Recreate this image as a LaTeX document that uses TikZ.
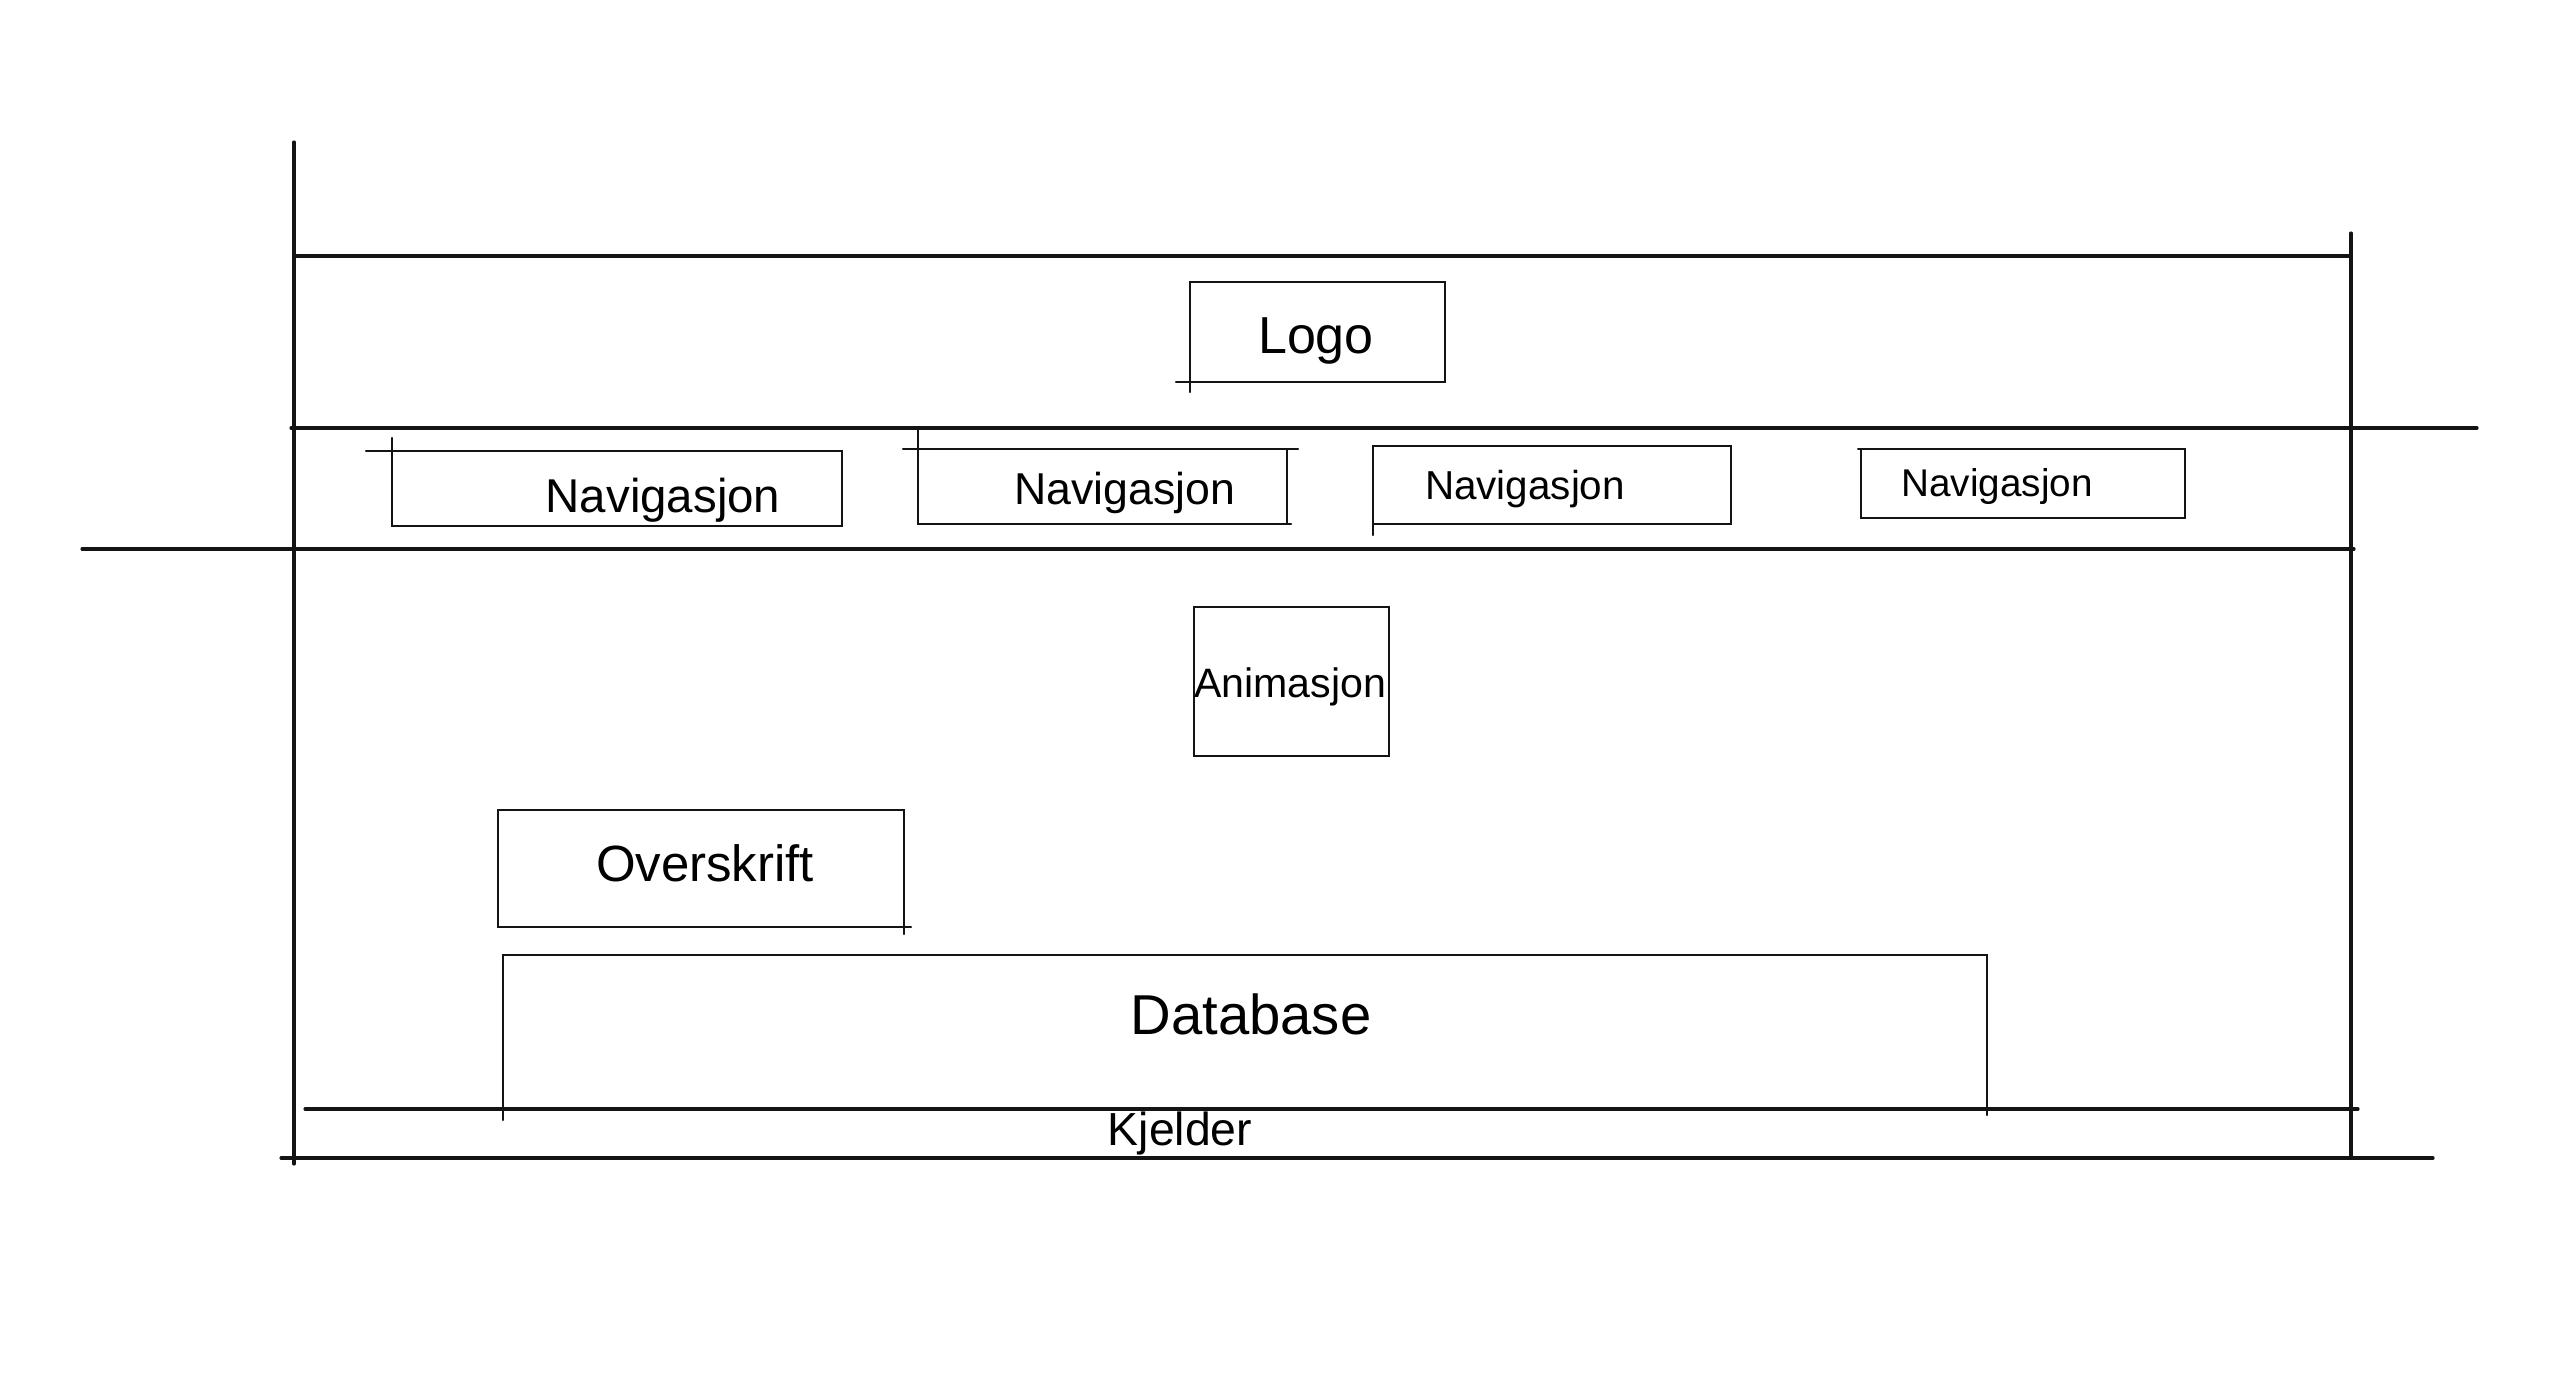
\documentclass[tikz,border=0pt]{standalone}
\usepackage{fontspec}
\setmainfont{Liberation Sans}
\usepackage{tikz}
\usepackage{xcolor}
\usetikzlibrary{positioning}
\definecolor{Sketch_Ink}{HTML}{141414}

\begin{document}
\begin{tikzpicture}[x=1cm, y=-1cm, line cap=round,
    frameline/.style={line width=0.9pt, Sketch_Ink},
    boxline/.style={line width=0.6pt, Sketch_Ink},
    wirebox/.style={draw=Sketch_Ink, line width=0.6pt, inner sep=0pt, outer sep=0pt}]
    \useasboundingbox (0,0) rectangle (25.6,13.8);
    \fill[white] (0,0) rectangle (25.6,13.8);

    % Page frame
    \draw[frameline] (2.94,1.42) -- (2.94,11.64);
    \draw[frameline] (23.51,2.33) -- (23.51,11.58);
    \draw[frameline] (2.94,2.56) -- (23.51,2.56);
    \draw[frameline] (2.91,4.28) -- (24.77,4.28);
    \draw[frameline] (0.82,5.49) -- (23.54,5.49);
    \draw[frameline] (3.05,11.09) -- (23.58,11.09);
    \draw[frameline] (2.81,11.58) -- (24.33,11.58);

    % Logo
    \node[wirebox, minimum width=2.55cm, minimum height=1.00cm] (logo) at (13.175,3.32) {};
    \node[font=\fontsize{14.8}{17}\selectfont] (logotext) at (13.16,3.41) {Logo};
    \draw[boxline] (logo.south west) -- ++(0,0.10);
    \draw[boxline] (logo.south west) -- ++(-0.14,0);

    % Navigation buttons
    \node[wirebox, minimum width=4.50cm, minimum height=0.75cm] (nav1) at (6.17,4.885) {};
    \node[font=\fontsize{13.5}{16}\selectfont] (nav1text) at (6.63,5.00) {Navigasjon};
    \draw[boxline] (nav1.north west) -- ++(-0.26,0);
    \draw[boxline] (nav1.north west) -- ++(0,-0.13);

    \node[wirebox, minimum width=3.69cm, minimum height=0.75cm] (nav2) at (11.025,4.865) {};
    \node[font=\fontsize{12.7}{15}\selectfont] (nav2text) at (11.25,4.93) {Navigasjon};
    \draw[boxline] (nav2.north west) -- ++(-0.15,0);
    \draw[boxline] (nav2.north west) -- ++(0,-0.20);
    \draw[boxline] (nav2.north east) -- ++(0.11,0);
    \draw[boxline] (nav2.south east) -- ++(0.04,0);

    \node[wirebox, minimum width=3.58cm, minimum height=0.78cm] (nav3) at (15.52,4.85) {};
    \node[font=\fontsize{11.5}{14}\selectfont] (nav3text) at (15.25,4.89) {Navigasjon};
    \draw[boxline] (nav3.south west) -- ++(0,0.11);

    \node[wirebox, minimum width=3.24cm, minimum height=0.69cm] (nav4) at (20.23,4.835) {};
    \node[font=\fontsize{11}{13}\selectfont] (nav4text) at (19.97,4.87) {Navigasjon};
    \draw[boxline] (nav4.north west) -- ++(-0.03,0);

    % Animation
    \node[wirebox, minimum width=1.95cm, minimum height=1.49cm] (anim) at (12.915,6.815) {};
    \node[font=\fontsize{11.7}{14}\selectfont, inner sep=0pt] (animtext) at (12.90,6.87) {Animasjon};

    % Heading
    \node[wirebox, minimum width=4.06cm, minimum height=1.17cm] (head) at (7.01,8.685) {};
    \node[font=\fontsize{14.5}{17}\selectfont] (headtext) at (7.05,8.63) {Overskrift};
    \draw[boxline] (head.south east) -- ++(0,0.07);
    \draw[boxline] (head.south east) -- ++(0.07,0);

    % Database
    \node[wirebox, minimum width=14.84cm, minimum height=1.55cm] (db) at (12.45,10.325) {};
    \node[font=\fontsize{16}{19}\selectfont] (dbtext) at (12.51,10.14) {Database};
    \draw[boxline] (db.south west) -- ++(0,0.10);
    \draw[boxline] (db.south east) -- ++(0,0.05);

    % Footer
    \node[font=\fontsize{13.2}{16}\selectfont] (kjelder) at (11.80,11.33) {Kjelder};

\end{tikzpicture}
\end{document}
